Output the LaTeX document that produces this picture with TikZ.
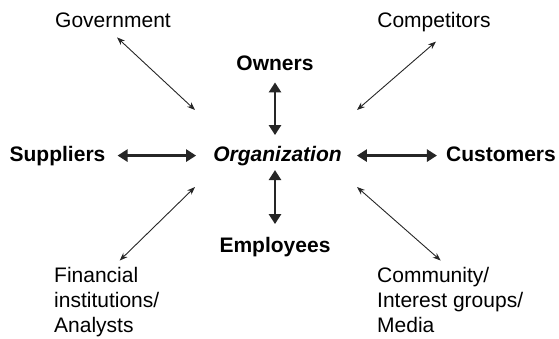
\documentclass[tikz,border=0pt]{standalone}
\usepackage{fontspec}
\setmainfont{Liberation Sans}
\usetikzlibrary{arrows.meta}
\tikzset{
  lbl/.style={inner sep=0pt,font=\fontsize{21}{25}\selectfont},
  key/.style={inner sep=0pt,font=\fontsize{21}{25}\selectfont\bfseries},
  thinway/.style={{Stealth[length=8pt,width=6pt]}-{Stealth[length=8pt,width=6pt]},line width=0.9pt,black!85},
  thickway/.style={{Triangle[length=10pt,width=12pt]}-{Triangle[length=10pt,width=12pt]},line width=2.6pt,black!85}
}
\begin{document}
\begin{tikzpicture}[x=1pt,y=-1pt]
\useasboundingbox (0,0) rectangle (559,338);
% Centre
\draw (277.5,161) node(norg)[key,anchor=base] {\itshape Organization};
% Main stakeholders
\draw (275,70) node(nown)[key,anchor=base] {Owners};
\draw (275,252) node(nemp)[key,anchor=base] {Employees};
\draw (57.5,161) node(nsup)[key,anchor=base] {Suppliers};
\draw (501,161) node(ncus)[key,anchor=base] {Customers};
% Other stakeholders
\draw (113,27) node(ngov)[lbl,anchor=base] {Government};
\draw (434,27) node(ncomp)[lbl,anchor=base] {Competitors};
\draw (54,267.5) node(nfin)[lbl,anchor=north west,align=left] {Financial\\institutions/\\Analysts};
\draw (377,267.5) node(ncomm)[lbl,anchor=north west,align=left] {Community/\\Interest groups/\\Media};
% Free ends near the centre
\coordinate (hnw) at (195,110);
\coordinate (hne) at (357,110);
\coordinate (hsw) at (195,187);
\coordinate (hse) at (357,187);
% Arrows main
\draw[thickway,shorten <=12pt,shorten >=17pt] (norg.west -| nsup.east) -- (norg.west);
\draw[thickway,shorten <=15pt,shorten >=9pt] (norg.east) -- (norg.east -| ncus.west);
\draw[thickway,shorten <=12pt,shorten >=10.5pt] (nown.south) -- (nown.south |- norg.north);
\draw[thickway,shorten <=4.5pt,shorten >=12.5pt] (nemp.north |- norg.south) -- (nemp.north);
% Arrows other
\draw[thinway] ([shift={(4,10)}]ngov.south) -- (hnw);
\draw[thinway] ([shift={(2,10)}]ncomp.south) -- (hne);
\draw[thinway] (hsw) -- ([shift={(13,-7)}]nfin.north);
\draw[thinway] (hse) -- ([shift={(-9.5,-7)}]ncomm.north);
\end{tikzpicture}
\end{document}
